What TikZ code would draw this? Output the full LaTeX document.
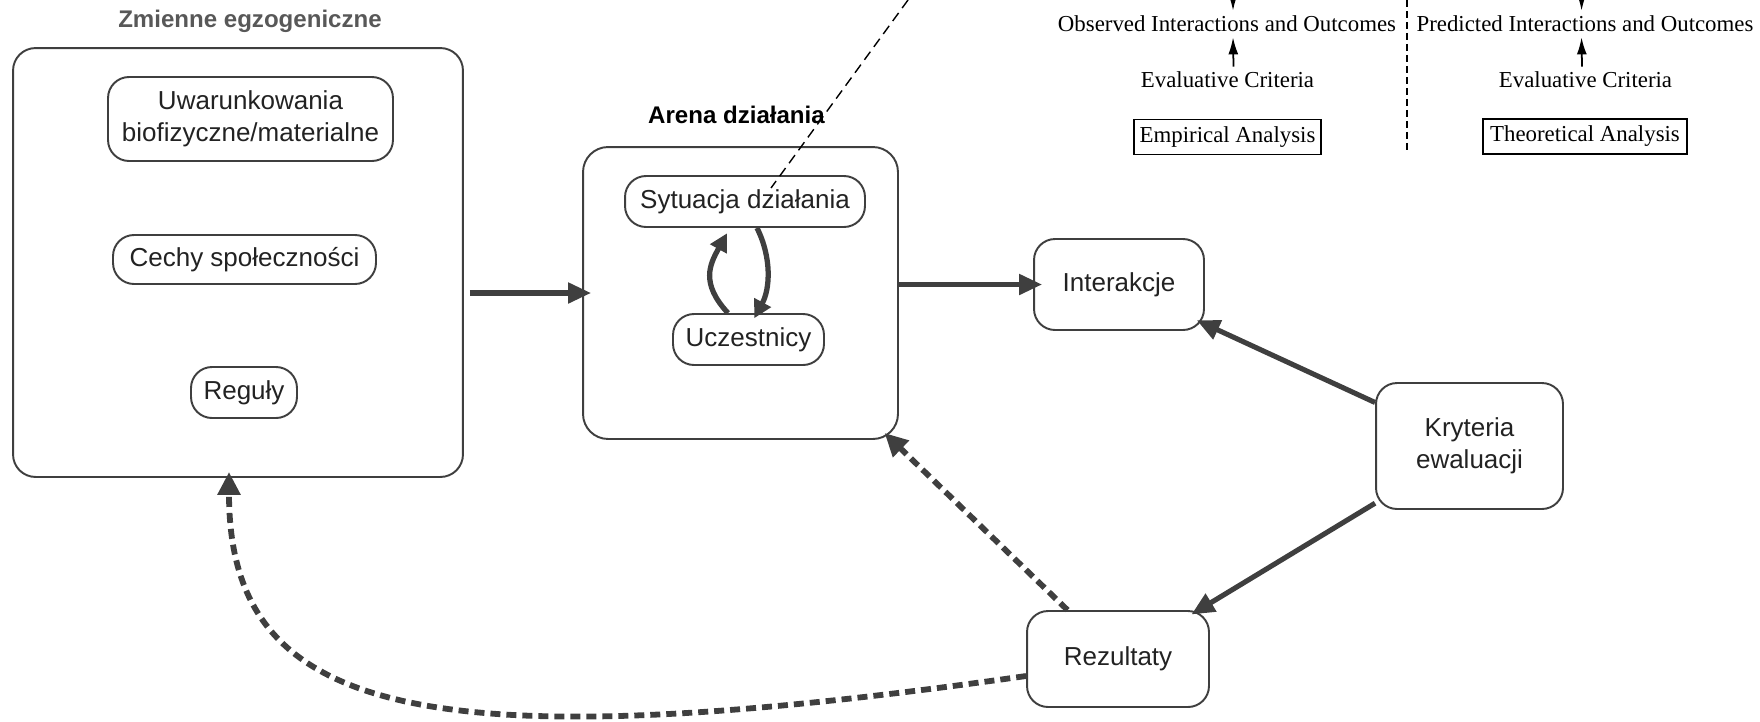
\documentclass[tikz,border=0pt]{standalone}
\usepackage{fontspec}
\setmainfont{Liberation Serif}
\setsansfont{Liberation Sans}
\usepackage{tikz}
\usetikzlibrary{arrows.meta}
\definecolor{linegray}{HTML}{3F3F3F}
\definecolor{titlegray}{HTML}{585858}
\definecolor{textgray}{HTML}{222222}

\begin{document}
\begin{tikzpicture}[x=0.02cm, y=-0.02cm,
   group/.style={draw=linegray, line width=1.1pt, rounded corners=0.45cm, inner sep=0pt},
   place/.style={draw=linegray, line width=1.1pt, rounded corners=0.42cm, align=center, text=textgray,
      font=\sffamily\fontsize{14.8}{18.5}\selectfont, inner sep=0pt},
   heading/.style={font=\sffamily\bfseries\fontsize{13.7}{16}\selectfont},
   flow/.style={draw=linegray, line width=2.9pt, -{Triangle[length=0.46cm,width=0.4cm]}},
   loopflow/.style={draw=linegray, line width=3pt, -{Triangle[length=0.36cm,width=0.36cm]}},
   feedback/.style={draw=linegray, line width=3.3pt, dash pattern=on 0.2cm off 0.12cm,
      -{Triangle[length=0.46cm,width=0.44cm]}},
   paneltext/.style={font=\fontsize{13}{15}\selectfont, inner sep=0.1cm},
   analysis/.style={draw, line width=0.9pt, font=\fontsize{13}{15}\selectfont, minimum height=0.7cm, inner sep=0pt},
   transition/.style={line width=1pt, -{Latex[length=0.34cm,width=0.2cm]}}]
\useasboundingbox (0,0) rectangle (1760,721);

\node[heading, text=titlegray] (zmtitle) at (250,21) {Zmienne egzogeniczne};
\node[group, minimum width=9cm, minimum height=8.58cm] (lbox) at (238,262.5) {};
\node[place, minimum width=5.7cm, minimum height=1.68cm] (uwar) at (250.5,119) {Uwarunkowania\\biofizyczne/materialne};
\node[place, minimum width=5.26cm, minimum height=0.98cm] (cechy) at (244.5,259.5) {Cechy społeczności};
\node[place, minimum width=2.12cm, minimum height=1.02cm] (reguly) at (244,392.5) {Reguły};

\node[heading, text=black] (artitle) at (736.5,115) {Arena działania};
\node[group, minimum width=6.3cm, minimum height=5.84cm, rounded corners=0.5cm] (arena) at (740.5,293) {};
\node[place, minimum width=4.8cm, minimum height=1.02cm] (syt) at (745,201.5) {Sytuacja działania};
\node[place, minimum width=3.02cm, minimum height=1.02cm] (ucz) at (748.5,339.5) {Uczestnicy};

\node[place, minimum width=3.4cm, minimum height=1.82cm] (inter) at (1119,284.5) {Interakcje};
\node[place, minimum width=3.74cm, minimum height=2.52cm] (kryt) at (1469.5,446) {Kryteria\\ewaluacji};
\node[place, minimum width=3.64cm, minimum height=1.92cm] (rez) at (1118,659) {Rezultaty};

\node[paneltext] (obs1) at (1227,24) {Observed Interactions and Outcomes};
\node[paneltext] (crit1) at (1227.5,80) {Evaluative Criteria};
\node[analysis, minimum width=3.74cm] (emp) at (1227.5,137) {Empirical Analysis};
\node[paneltext] (obs2) at (1585,24) {Predicted Interactions and Outcomes};
\node[paneltext] (crit2) at (1585.5,80) {Evaluative Criteria};
\node[analysis, minimum width=4.08cm] (theo) at (1585,136.5) {Theoretical Analysis};
\coordinate (in1) at (1233,-30);
\coordinate (in2) at (1582,-30);
\draw[line width=1pt, dash pattern=on 0.14cm off 0.08cm] (1407,0) -- (1407,153);

\path
    (lbox.east |- arena.west) edge[flow, shorten <=0.12cm, shorten >=-0.18cm] (arena.west)
    (arena.east |- inter.west) edge[flow, shorten >=-0.18cm] (inter.west)
    (kryt) edge[flow, shorten >=-0.18cm] (inter)
    (kryt) edge[flow, shorten >=-0.17cm] (rez)
    (rez) edge[feedback, shorten >=-0.2cm] (arena)
    (in1) edge[transition] ([xshift=0.12cm]obs1.north)
    ([xshift=0.12cm]crit1.north) edge[transition] ([xshift=0.12cm]obs1.south)
    (in2) edge[transition] ([xshift=-0.07cm]obs2.north)
    ([xshift=-0.07cm]crit2.north) edge[transition] ([xshift=-0.07cm]obs2.south)
;

\draw[feedback, shorten >=-0.12cm] ([yshift=-0.34cm]rez.west) .. controls +(-605,86) and +(0,238) .. ([xshift=-0.18cm]lbox.south);
\draw[loopflow, shorten >=0.12cm] ([xshift=-0.41cm]ucz.north) .. controls +(-28,-30) and +(-20,36) .. ([xshift=-0.3cm]syt.south);
\draw[loopflow, shorten >=-0.12cm] ([xshift=0.24cm]syt.south) .. controls +(15,30) and +(13,-24) .. ([xshift=0.17cm]ucz.north);

\coordinate (zoomtop) at (908,0);
\coordinate (zoomend) at (771,188);
\draw[line width=0.8pt, dash pattern=on 0.2cm off 0.12cm] (zoomtop) -- (zoomend);

\end{tikzpicture}
\end{document}
